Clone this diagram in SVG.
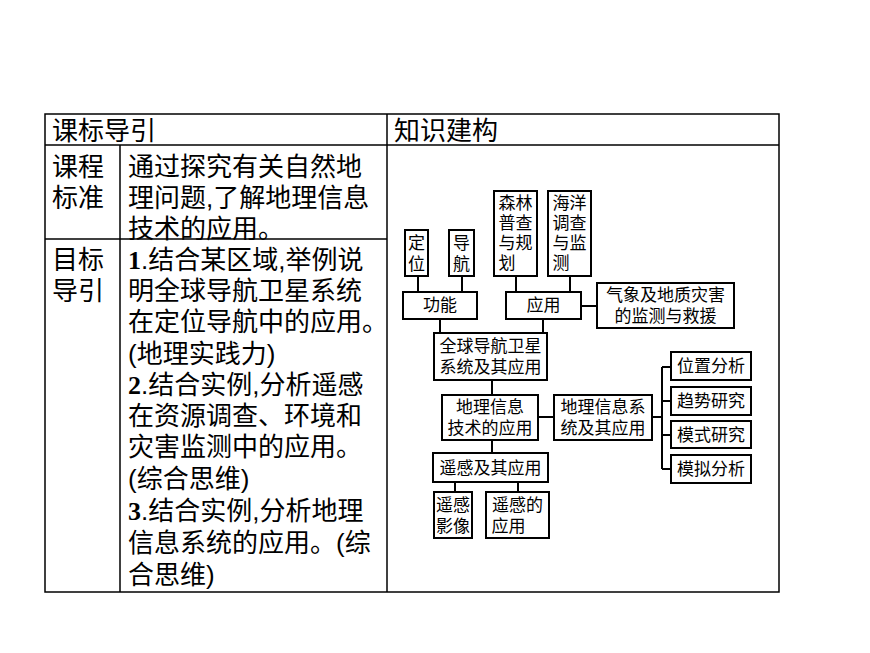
<svg xmlns="http://www.w3.org/2000/svg" width="870" height="653" viewBox="0 0 870 653">
<style>
.t{font-family:"Liberation Sans","Noto Sans CJK SC",sans-serif;font-size:26px;fill:#000}
.n{font-family:"Liberation Sans","Noto Sans CJK SC",sans-serif;font-size:17px;fill:#000;text-anchor:middle}
.b rect{fill:#fff;stroke:#000;stroke-width:2}
.l{stroke:#000;stroke-width:2;fill:none}
.g{stroke:#000;stroke-width:1.5;fill:none}
.d{font-family:"Liberation Serif",serif;font-weight:bold}
</style>
<rect width="870" height="653" fill="#fff"/>
<g id="table">
<rect x="45" y="114" width="734" height="478" class="g"/>
<line x1="45" y1="145" x2="779" y2="145" class="g"/>
<line x1="387" y1="114" x2="387" y2="592" class="g"/>
<line x1="120" y1="145" x2="120" y2="592" class="g"/>
<line x1="45" y1="239" x2="387" y2="239" class="g"/>
<text class="t" x="52" y="140">课标导引</text>
<text class="t" x="394" y="140">知识建构</text>
<text class="t" x="52" y="176">课程</text>
<text class="t" x="52" y="207">标准</text>
<text class="t" x="128" y="176">通过探究有关自然地</text>
<text class="t" x="128" y="207">理问题,了解地理信息</text>
<text class="t" x="128" y="238">技术的应用。</text>
<text class="t" x="52" y="269">目标</text>
<text class="t" x="52" y="300">导引</text>
<text class="t" x="128" y="269"><tspan class="d">1</tspan>.结合某区域,举例说</text>
<text class="t" x="128" y="300">明全球导航卫星系统</text>
<text class="t" x="128" y="331">在定位导航中的应用。</text>
<text class="t" x="128" y="363">(地理实践力)</text>
<text class="t" x="128" y="394"><tspan class="d">2</tspan>.结合实例,分析遥感</text>
<text class="t" x="128" y="425">在资源调查、环境和</text>
<text class="t" x="128" y="456">灾害监测中的应用。</text>
<text class="t" x="128" y="488">(综合思维)</text>
<text class="t" x="128" y="520"><tspan class="d">3</tspan>.结合实例,分析地理</text>
<text class="t" x="128" y="552">信息系统的应用。(综</text>
<text class="t" x="128" y="584">合思维)</text>
</g>
<g id="connectors" class="l">
<path d="M418 276V292M462 276V292M516 276V292M570 276V292M581 306H597M440 319V333M543 319V333M492 380V395M538 417H554M492 440V453M455 482V492M518 482V492M652 417H662M662 367V469M662 367H671M662 401H671M662 435H671M662 469H671"/>
</g>
<g class="b">
<g id="n1"><rect x="405" y="230" width="23" height="46"/><text class="n" x="416.5" y="249">定</text><text class="n" x="416.5" y="270">位</text></g>
<g id="n2"><rect x="449" y="230" width="25" height="46"/><text class="n" x="461.5" y="249">导</text><text class="n" x="461.5" y="270">航</text></g>
<g id="n3"><rect x="494" y="191" width="43" height="85"/><text class="n" x="515.5" y="209">森林</text><text class="n" x="515.5" y="229">普查</text><text class="n" x="515.5" y="249">与规</text><text class="n" x="507" y="269">划</text></g>
<g id="n4"><rect x="548" y="191" width="43" height="85"/><text class="n" x="569.5" y="209">海洋</text><text class="n" x="569.5" y="229">调查</text><text class="n" x="569.5" y="249">与监</text><text class="n" x="561" y="269">测</text></g>
<g id="n5"><rect x="403" y="292" width="74" height="27"/><text class="n" x="440" y="311">功能</text></g>
<g id="n6"><rect x="506" y="292" width="75" height="27"/><text class="n" x="543.5" y="311">应用</text></g>
<g id="n7"><rect x="597" y="283" width="137" height="45"/><text class="n" x="665.5" y="301">气象及地质灾害</text><text class="n" x="665.5" y="322">的监测与救援</text></g>
<g id="n8"><rect x="434" y="333" width="113" height="47"/><text class="n" x="490.5" y="352">全球导航卫星</text><text class="n" x="490.5" y="373">系统及其应用</text></g>
<g id="n9"><rect x="442" y="395" width="96" height="45"/><text class="n" x="490" y="413">地理信息</text><text class="n" x="490" y="434">技术的应用</text></g>
<g id="n10"><rect x="554" y="395" width="98" height="45"/><text class="n" x="603" y="413">地理信息系</text><text class="n" x="603" y="434">统及其应用</text></g>
<g id="n11"><rect x="671" y="352" width="80" height="28"/><text class="n" x="711" y="372">位置分析</text></g>
<g id="n12"><rect x="671" y="387" width="80" height="28"/><text class="n" x="711" y="407">趋势研究</text></g>
<g id="n13"><rect x="671" y="421" width="80" height="27"/><text class="n" x="711" y="441">模式研究</text></g>
<g id="n14"><rect x="671" y="455" width="80" height="28"/><text class="n" x="711" y="475">模拟分析</text></g>
<g id="n15"><rect x="433" y="453" width="115" height="29"/><text class="n" x="490.5" y="474">遥感及其应用</text></g>
<g id="n16"><rect x="434" y="492" width="38" height="46"/><text class="n" x="453" y="511">遥感</text><text class="n" x="453" y="532">影像</text></g>
<g id="n17"><rect x="486" y="492" width="63" height="46"/><text class="n" x="517.5" y="511">遥感的</text><text class="n" x="508.5" y="532">应用</text></g>
</g>
</svg>
